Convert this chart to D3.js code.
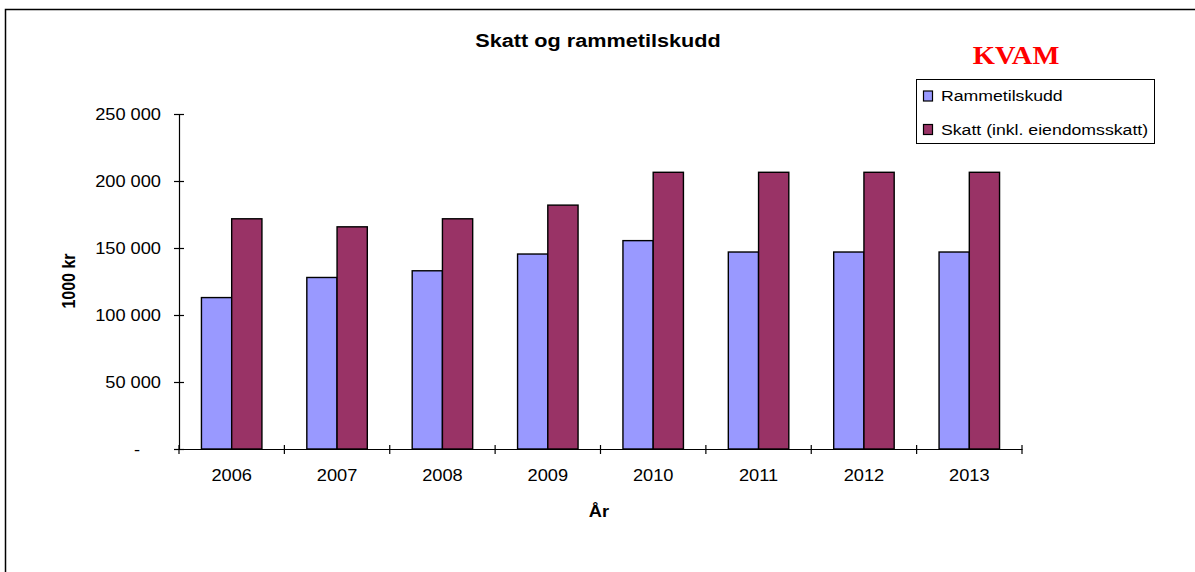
<!DOCTYPE html>
<html>
<head>
<meta charset="utf-8">
<script src="https://cdn.jsdelivr.net/npm/d3@7"></script>
<style>
  body { margin: 0; background: #fff; }
  svg { display: block; font-family: Arial, 'Liberation Sans', sans-serif; }
  .bar { stroke: #000; stroke-width: 1.4; }
  .axis path, .axis line { stroke: #000; stroke-width: 1.2; }
  .axis text { font-size: 16px; fill: #000; }
</style>
</head>
<body>
<div id="chart"></div>
<script>
const years = ['2006', '2007', '2008', '2009', '2010', '2011', '2012', '2013']
const seriesNames = ['Rammetilskudd', 'Skatt (inkl. eiendomsskatt)']
const rammetilskudd = [113000, 128000, 133000, 145500, 155500, 147000, 147000, 147000]
const skatt = [171800, 165800, 171800, 182000, 206500, 206500, 206500, 206500]
const colors = ['#9999ff', '#993366']
const yTicks = [0, 50000, 100000, 150000, 200000, 250000]

const W = 1195, H = 572
const SX = 1.14   // the picture's text is stretched horizontally
const fmt = d => d === 0 ? '-' : d3.format(',')(d).replace(/,/g, ' ')

const rows = years.map((yr, i) => ({year: yr, values: [rammetilskudd[i], skatt[i]]}))

const svg = d3.select('#chart').append('svg')
    .attr('width', W)
    .attr('height', H)

// chart frame (right and bottom edges fall outside the picture)
svg.append('rect')
    .attr('x', 5.5).attr('y', 9.5)
    .attr('width', 1240).attr('height', 640)
    .attr('fill', 'none')
    .attr('stroke', '#000')
    .attr('stroke-width', 1.5)

function label(x, y, txt, opts={}) {
    const g = svg.append('g').attr('transform', `translate(${x},${y})${opts.rotate ? ' rotate(-90)' : ''}`)
    const t = g.append('text')
        .attr('text-anchor', opts.anchor || 'middle')
        .attr('transform', opts.rotate ? `scale(1,${SX})` : `scale(${SX},1)`)
        .style('font-size', opts.size || '15px')
        .style('font-weight', opts.bold ? 'bold' : 'normal')
        .style('font-family', opts.family || null)
        .attr('fill', opts.fill || '#000')
        .text(txt)
    return t
}

let x0 = d3.scaleBand()
    .domain(years)
    .range([179, 1022])
    .paddingInner(0.426)
    .paddingOuter(0.213)

let x1 = d3.scaleBand()
    .domain(seriesNames)
    .range([0, x0.bandwidth()])

let y = d3.scaleLinear()
    .domain([0, 250000])
    .range([449, 114])

// bars
svg.append('g')
  .selectAll('g')
  .data(rows)
  .join('g')
    .attr('transform', d => `translate(${x0(d.year)},0)`)
  .selectAll('rect')
  .data(d => d.values.map((v, i) => ({key: seriesNames[i], value: v, i})))
  .join('rect')
    .attr('class', 'bar')
    .attr('x', d => x1(d.key))
    .attr('y', d => y(d.value))
    .attr('width', x1.bandwidth())
    .attr('height', d => y(0) - y(d.value))
    .attr('fill', d => colors[d.i])

// y axis
const yAxis = svg.append('g')
    .attr('class', 'axis y-axis')
    .attr('transform', `translate(179,0)`)
    .call(d3.axisLeft(y).tickValues(yTicks).tickFormat(fmt).tickSizeOuter(0).tickSize(5))

yAxis.selectAll('.tick line').attr('x1', -5).attr('x2', 5)
yAxis.selectAll('.tick text')
    .attr('x', d => d === 0 ? -42 / SX : -18 / SX)
    .attr('text-anchor', d => d === 0 ? 'middle' : 'end')
    .attr('transform', `scale(${SX},1)`)

// x axis
const xAxis = svg.append('g')
    .attr('class', 'axis x-axis')
    .attr('transform', `translate(0,${y(0)})`)
    .call(d3.axisBottom(x0).tickSize(0).tickSizeOuter(0))

xAxis.selectAll('.tick text')
    .attr('x', 0)
    .attr('y', 32)
    .attr('dy', 0)
    .attr('transform', `scale(${SX},1)`)

const bounds = years.map(d => x0(d) - x0.step() * x0.paddingOuter()).concat([x0.range()[1]])
xAxis.selectAll('.bound')
  .data(bounds)
  .join('line')
    .attr('class', 'bound')
    .attr('x1', d => d).attr('x2', d => d)
    .attr('y1', -4).attr('y2', 5)

// titles
label(598, 47, 'Skatt og rammetilskudd', {size: '19px', bold: true})
label(75, 281, '1000 kr', {size: '16px', bold: true, rotate: true})
label(599, 517, 'År', {size: '16px', bold: true})
label(1016, 64, 'KVAM', {size: '25px', bold: true, family: "'Liberation Serif', 'Times New Roman', serif", fill: '#ff0000'})

// legend
const lg = svg.append('g').attr('transform', 'translate(916,79)')
lg.append('rect')
    .attr('x', 0.5).attr('y', 0.5)
    .attr('width', 238).attr('height', 64)
    .attr('fill', '#fff')
    .attr('stroke', '#000')
    .attr('stroke-width', 1)

seriesNames.forEach((name, i) => {
    lg.append('rect')
        .attr('x', 7.5).attr('y', 12 + i * 33.5)
        .attr('width', 9).attr('height', 10)
        .attr('fill', colors[i])
        .attr('stroke', '#000')
        .attr('stroke-width', 1.2)
    label(941, 101 + i * 33.5, name, {size: '15.5px', anchor: 'start'})
})
</script>
</body>
</html>
